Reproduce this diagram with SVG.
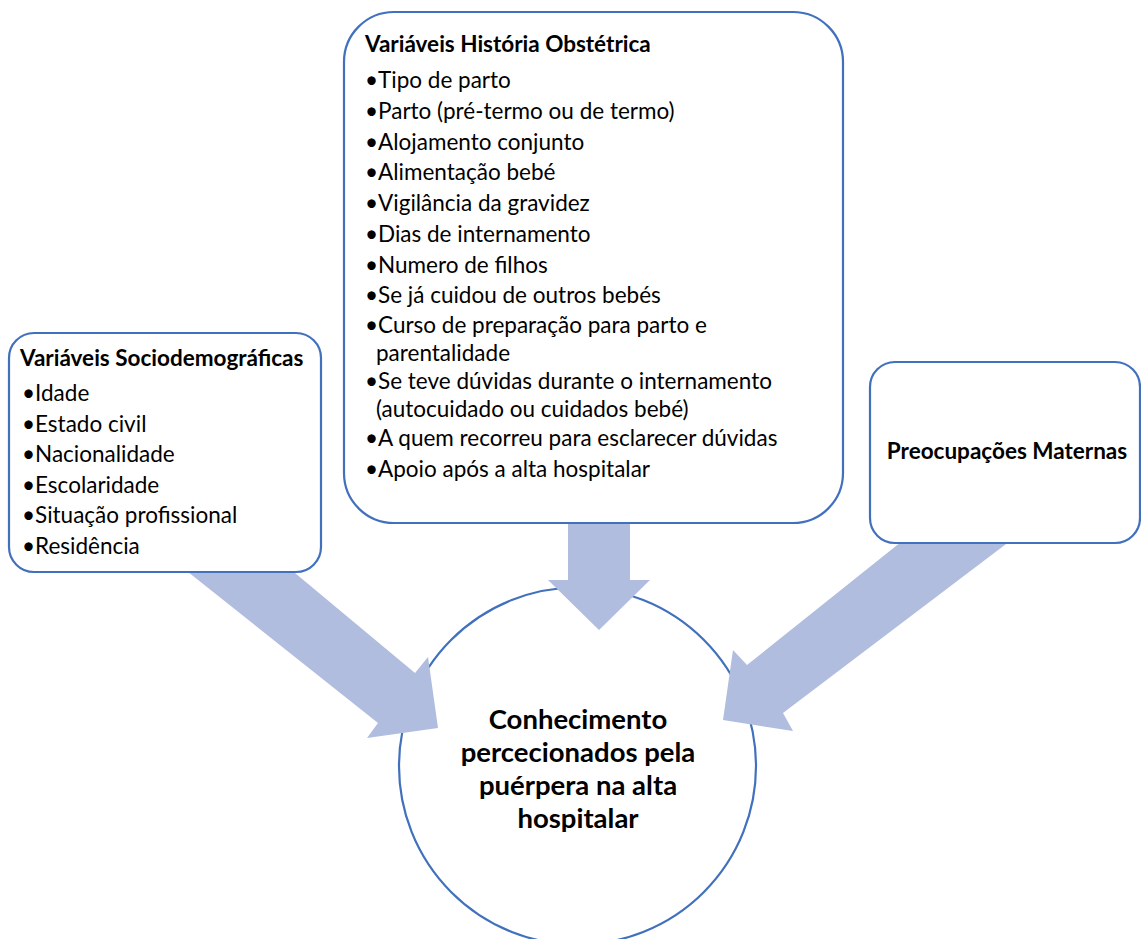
<svg xmlns="http://www.w3.org/2000/svg" width="1141" height="939" viewBox="0 0 1141 939">
<style>
.box{fill:#fff;stroke:#4170bd;stroke-width:2.2}
.arrow{fill:#b0bddf}
.t{font-family:Lato,"Open Sans",sans-serif;font-size:22.5px;fill:#000}
.b{font-weight:bold}
.c{font-family:Lato,"Open Sans",sans-serif;font-size:27.5px;font-weight:bold;fill:#000;text-anchor:middle}
</style>
<rect width="1141" height="939" fill="#fff"/>
<g id="center">
<circle cx="577.5" cy="766" r="178.5" class="box"/>
<text class="c" x="578" y="729">Conhecimento<tspan x="578" dy="33">percecionados pela</tspan><tspan x="578" dy="33">puérpera na alta</tspan><tspan x="578" dy="33">hospitalar</tspan></text>
</g>
<g id="connectors">
<polygon class="arrow" points="183,568 289,568 415,673 428,657 438,728 367,738 378,723"/>
<polygon class="arrow" points="568,518 630,518 630,580 650,580 599,630 548,580 568,580"/>
<polygon class="arrow" points="906,538 1014,538 783,713 793,731 723,720 733,650 747,665"/>
</g>
<g id="sociodemograficas">
<rect x="9" y="333" width="312" height="239" rx="25" class="box"/>
<text class="t b" x="20" y="366">Variáveis Sociodemográficas</text>
<text class="t" x="22" y="401">•Idade</text>
<text class="t" x="22" y="432">•Estado civil</text>
<text class="t" x="22" y="462">•Nacionalidade</text>
<text class="t" x="22" y="493">•Escolaridade</text>
<text class="t" x="22" y="523">•Situação profissional</text>
<text class="t" x="22" y="554">•Residência</text>
</g>
<g id="obstetrica">
<rect x="344" y="12" width="499" height="511" rx="50" class="box"/>
<text class="t b" x="365" y="52">Variáveis História Obstétrica</text>
<text class="t" x="365" y="88">•Tipo de parto</text>
<text class="t" x="365" y="118.75">•Parto (pré-termo ou de termo)</text>
<text class="t" x="365" y="149.5">•Alojamento conjunto</text>
<text class="t" x="365" y="180.25">•Alimentação bebé</text>
<text class="t" x="365" y="211">•Vigilância da gravidez</text>
<text class="t" x="365" y="241.75">•Dias de internamento</text>
<text class="t" x="365" y="272.5">•Numero de filhos</text>
<text class="t" x="365" y="303.25">•Se já cuidou de outros bebés</text>
<text class="t" x="365" y="333">•Curso de preparação para parto e<tspan x="376" dy="27.5">parentalidade</tspan></text>
<text class="t" x="365" y="389">•Se teve dúvidas durante o internamento<tspan x="376" dy="27.5">(autocuidado ou cuidados bebé)</tspan></text>
<text class="t" x="365" y="446">•A quem recorreu para esclarecer dúvidas</text>
<text class="t" x="365" y="477">•Apoio após a alta hospitalar</text>
</g>
<g id="preocupacoes">
<rect x="870" y="362" width="270" height="181" rx="25" class="box"/>
<text class="t b" x="1007" y="459" text-anchor="middle">Preocupações Maternas</text>
</g>
</svg>
